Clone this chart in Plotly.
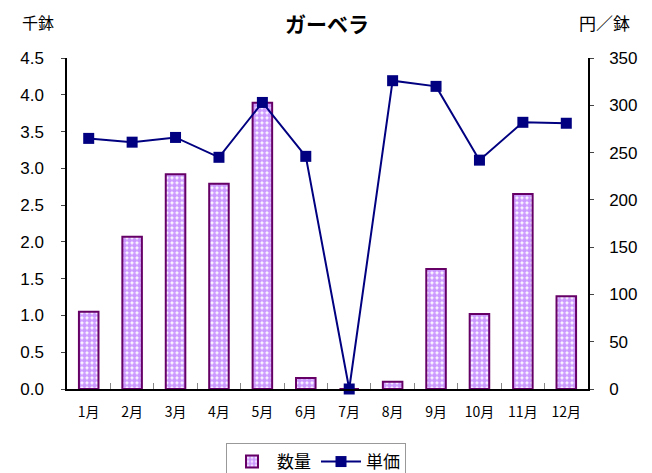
import plotly.graph_objects as go

months = ["1月", "2月", "3月", "4月", "5月", "6月", "7月", "8月", "9月", "10月", "11月", "12月"]
quantity = [1.05, 2.07, 2.92, 2.79, 3.89, 0.15, 0.0, 0.10, 1.63, 1.02, 2.65, 1.26]
unit_price = [265, 261, 266, 245, 303, 246, 0, 326, 320, 242, 282, 281]
left_ticks = [0, 0.5, 1.0, 1.5, 2.0, 2.5, 3.0, 3.5, 4.0, 4.5]
right_ticks = [0, 50, 100, 150, 200, 250, 300, 350]

OFF = 8  # page body margin
W, H = 652 - OFF, 473 - OFF
ML, MR, MT, MB = 67 - OFF, 64, 58 - OFF, 84
pw = W - ML - MR
ph = H - MT - MB

fig = go.Figure()
fig.add_trace(go.Bar(
    x=months, y=quantity, name="数量", width=0.45,
    marker=dict(color="#FFFFFF", line=dict(color="#660066", width=2),
                pattern=dict(shape=".", fgcolor="#CC99FF", bgcolor="#FFFFFF",
                             size=5, solidity=0.75, fillmode="replace")),
    yaxis="y",
))
fig.add_trace(go.Scatter(
    x=months, y=unit_price, name="単価", mode="lines+markers",
    line=dict(color="#000080", width=2),
    marker=dict(symbol="square", size=11, color="#000080"),
    yaxis="y2", cliponaxis=False,
))

font_fam = "Liberation Sans, Arial, sans-serif"
fig.update_layout(
    width=W, height=H,
    margin=dict(l=ML, r=MR, t=MT, b=MB, autoexpand=False),
    plot_bgcolor="white", paper_bgcolor="white",
    showlegend=True,
    title=dict(text="<b>ガーベラ</b>", x=(327 - OFF) / W, xanchor="center",
               y=1 - (25 - OFF) / H, yanchor="middle",
               font=dict(family="Noto Sans CJK JP", size=21, color="black")),
    xaxis=dict(range=[-0.5, len(months) - 0.5],
               showline=True, linecolor="black", linewidth=1.5, ticks="inside", ticklen=6,
               tickcolor="#888", tickson="boundaries", showgrid=False, automargin=False,
               ticklabelstandoff=9,
               tickfont=dict(family="Noto Sans CJK JP", size=14, color="black")),
    yaxis=dict(range=[0, 4.5], tickvals=left_ticks, ticktext=[f"{v:.1f}" for v in left_ticks],
               showline=True, linecolor="black", linewidth=1.5, ticks="outside", ticklen=4,
               showgrid=False, zeroline=False, automargin=False, ticklabelstandoff=14,
               tickfont=dict(family=font_fam, size=17, color="black")),
    yaxis2=dict(range=[0, 350], tickvals=right_ticks, overlaying="y", side="right",
                showline=True, linecolor="black", linewidth=1.5, ticks="outside", ticklen=4,
                showgrid=False, zeroline=False, automargin=False, ticklabelstandoff=12,
                tickfont=dict(family=font_fam, size=17, color="black")),
    legend=dict(orientation="h", x=(316 - OFF) / W, xanchor="center", xref="container",
                y=1 - (443 - OFF) / H, yanchor="top", yref="container",
                bordercolor="#999", borderwidth=1, itemwidth=40,
                font=dict(family="Noto Sans CJK JP", size=17, color="black")),
    annotations=[
        dict(text="千鉢", x=(38 - 67) / pw, y=(389 - 22) / ph, xref="paper", yref="paper",
             xanchor="center", yanchor="middle",
             showarrow=False, font=dict(family="Noto Sans CJK JP", size=16, color="black")),
        dict(text="円／鉢", x=(604 - 67) / pw, y=(389 - 22) / ph, xref="paper", yref="paper",
             xanchor="center", yanchor="middle",
             showarrow=False, font=dict(family="Noto Sans CJK JP", size=17, color="black")),
    ],
)
fig.write_html("out.html")
